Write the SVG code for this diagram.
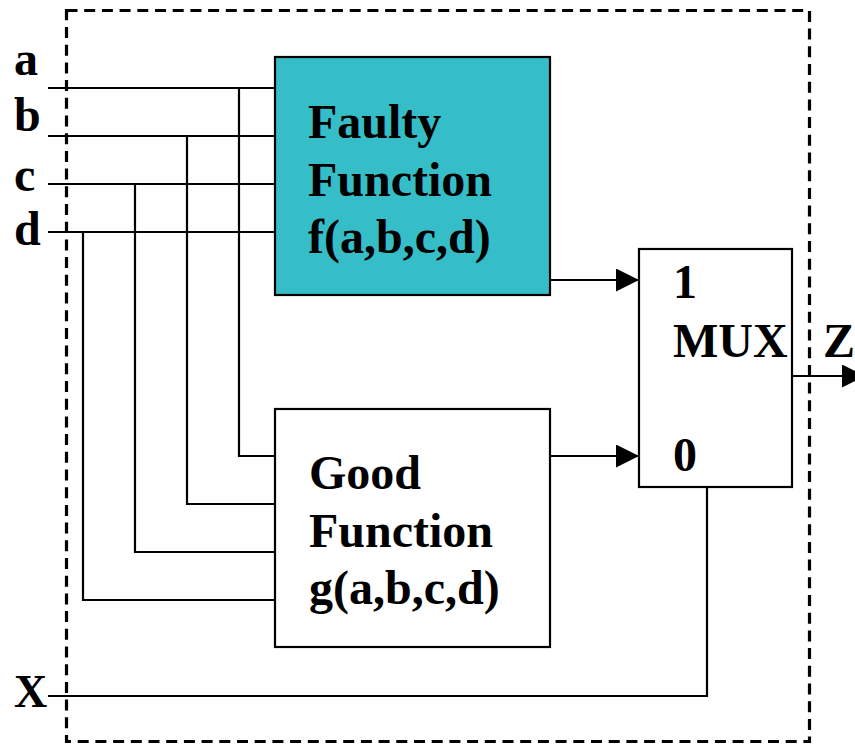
<svg xmlns="http://www.w3.org/2000/svg" width="855" height="744" viewBox="0 0 855 744">
  <style>
    .wire { fill: none; stroke: #000; stroke-width: 2.2; }
    .box { stroke: #000; stroke-width: 2.2; }
    .lbl { font-family: "Liberation Serif", "Times New Roman", serif; font-weight: bold; font-size: 48px; fill: #000; }
    .border { fill: none; stroke: #000; stroke-width: 3.2; stroke-dasharray: 11 6.7; }
  </style>
  <defs>
    <marker id="arrow" markerUnits="userSpaceOnUse" markerWidth="24" markerHeight="24" refX="23" refY="11.5" orient="auto">
      <path d="M0,0 L23,11.5 L0,23 Z" fill="#000"/>
    </marker>
  </defs>

  <rect width="855" height="744" fill="#fff"/>

  <!-- enclosing test boundary -->
  <rect class="border" x="66.5" y="10.5" width="743" height="731"/>

  <!-- input and output labels -->
  <g id="inputs">
    <text class="lbl" x="14" y="75">a</text>
    <text class="lbl" x="14" y="131">b</text>
    <text class="lbl" x="14" y="191">c</text>
    <text class="lbl" x="14" y="245">d</text>
    <text class="lbl" x="14" y="707" style="font-size:46px">X</text>
    <text class="lbl" x="823" y="357">Z</text>
  </g>

  <!-- wiring -->
  <g id="connectors">
    <!-- input buses into the faulty function -->
    <line class="wire" x1="48" y1="88" x2="275" y2="88"/>
    <line class="wire" x1="48" y1="136" x2="275" y2="136"/>
    <line class="wire" x1="48" y1="184" x2="275" y2="184"/>
    <line class="wire" x1="48" y1="232" x2="275" y2="232"/>
    <!-- branches down to the good function -->
    <polyline class="wire" points="239,88 239,456 275,456"/>
    <polyline class="wire" points="187,136 187,504 275,504"/>
    <polyline class="wire" points="135,184 135,552 275,552"/>
    <polyline class="wire" points="83,232 83,600 275,600"/>
    <!-- function outputs into the mux -->
    <line class="wire" x1="550" y1="280" x2="639" y2="280" marker-end="url(#arrow)"/>
    <line class="wire" x1="550" y1="456" x2="639" y2="456" marker-end="url(#arrow)"/>
    <!-- mux output -->
    <line class="wire" x1="792" y1="376" x2="865" y2="376" marker-end="url(#arrow)"/>
    <!-- select line -->
    <polyline class="wire" points="48,696 707,696 707,487"/>
  </g>

  <g id="faulty">
    <rect class="box" x="275" y="57" width="275" height="238" fill="#35BEC8"/>
    <text class="lbl" x="308" y="138">Faulty</text>
    <text class="lbl" x="308" y="196">Function</text>
    <text class="lbl" x="308" y="253">f(a,b,c,d)</text>
  </g>

  <g id="good">
    <rect class="box" x="275" y="409" width="275" height="238" fill="#fff"/>
    <text class="lbl" x="309" y="489">Good</text>
    <text class="lbl" x="309" y="547">Function</text>
    <text class="lbl" x="309" y="604">g(a,b,c,d)</text>
  </g>

  <g id="mux">
    <rect class="box" x="639" y="249" width="153" height="238" fill="#fff"/>
    <text class="lbl" x="673" y="298">1</text>
    <text class="lbl" x="673" y="357">MUX</text>
    <text class="lbl" x="673" y="471">0</text>
  </g>
</svg>
